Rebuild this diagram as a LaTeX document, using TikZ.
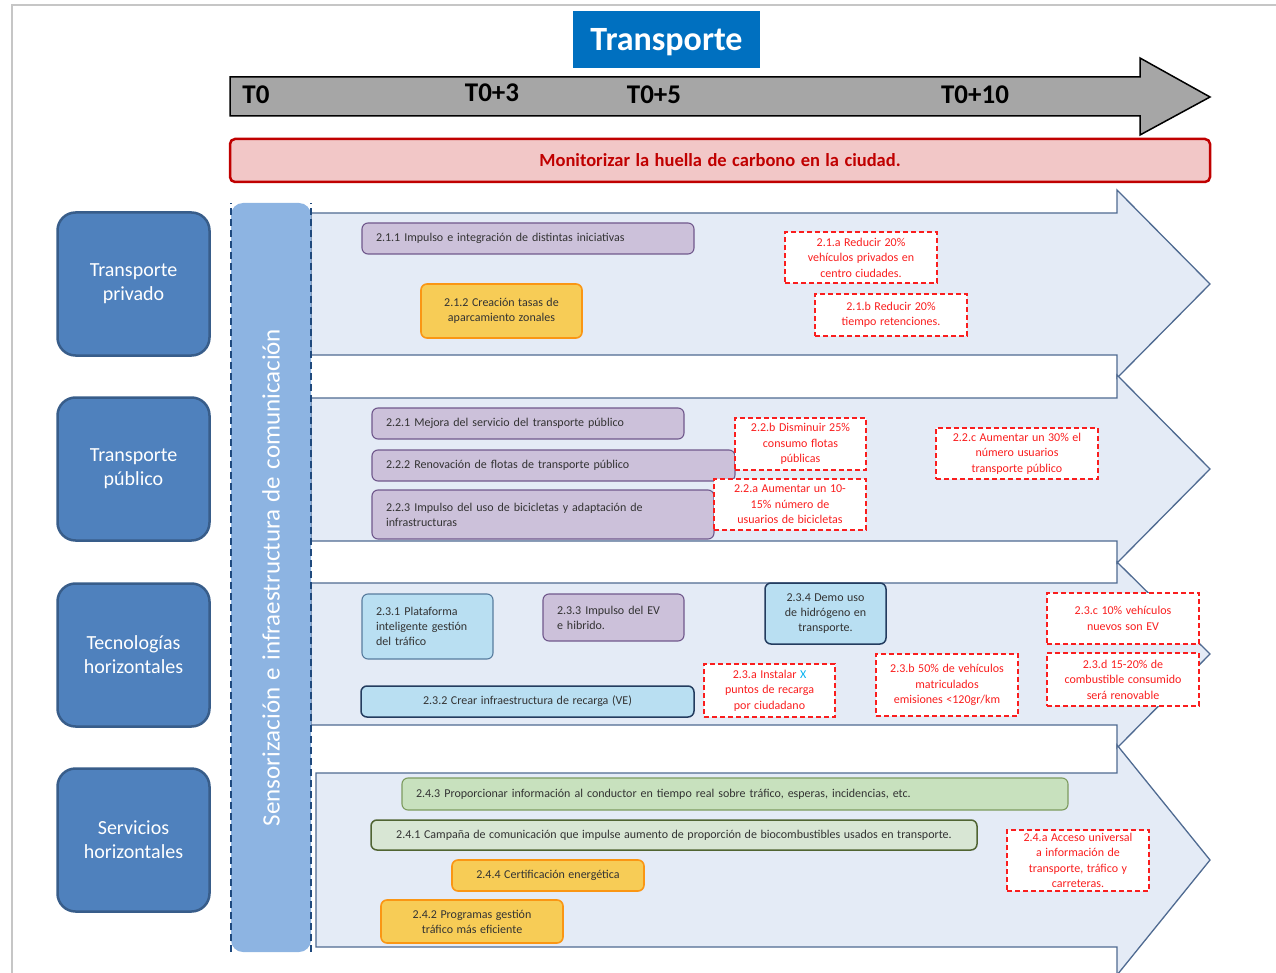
\documentclass[tikz,border=0pt]{standalone}
\usepackage{fontspec}
\setmainfont{Carlito}[WordSpace=1.3]
\usetikzlibrary{positioning}

\definecolor{titleblue}{RGB}{0,112,192}
\definecolor{catfill}{RGB}{79,129,189}
\definecolor{catdraw}{RGB}{56,93,138}
\definecolor{barfill}{RGB}{141,180,226}
\definecolor{bardash}{RGB}{31,73,125}
\definecolor{bandfill}{RGB}{228,235,246}
\definecolor{banddraw}{RGB}{79,106,145}
\definecolor{lilafill}{RGB}{204,193,218}
\definecolor{liladraw}{RGB}{112,88,140}
\definecolor{orfill}{RGB}{247,204,86}
\definecolor{ordraw}{RGB}{250,150,20}
\definecolor{cyanfill}{RGB}{185,223,242}
\definecolor{cyandraw}{RGB}{88,124,158}
\definecolor{navydraw}{RGB}{35,60,95}
\definecolor{greenfill}{RGB}{200,225,190}
\definecolor{greendraw}{RGB}{125,155,95}
\definecolor{paleverde}{RGB}{216,230,212}
\definecolor{olivedraw}{RGB}{80,100,50}
\definecolor{goalred}{RGB}{250,30,30}
\definecolor{xblue}{RGB}{0,176,240}
\definecolor{monfill}{RGB}{242,199,199}
\definecolor{mondraw}{RGB}{192,0,0}

\begin{document}
\begin{tikzpicture}[x=1pt,y=-1pt,
  cat/.style={draw=catdraw,fill=catfill,line width=2.5pt,rounded corners=18pt,
    minimum width=152pt,minimum height=143pt,text=white,align=center,
    font=\fontsize{20}{24}\selectfont},
  band/.style={draw=banddraw,fill=bandfill,line width=1.3pt,line join=miter},
  wh/.style 2 args={minimum width=#1,minimum height=#2},
  leftcol/.style={text width=#1,align=left},
  act/.style={rounded corners=6pt,line width=1.1pt,inner sep=0pt,text=black!80,
    align=center,font=\fontsize{12}{15}\selectfont},
  lila/.style={act,fill=lilafill,draw=liladraw},
  naranja/.style={act,fill=orfill,draw=ordraw,line width=1.6pt},
  celeste/.style={act,fill=cyanfill,draw=cyandraw},
  verde/.style={act,fill=greenfill,draw=greendraw},
  meta/.style={draw=goalred,fill=white,line width=1.5pt,dash pattern=on 5pt off 3pt,
    inner sep=0pt,text=goalred,align=center,font=\fontsize{12}{15.5}\selectfont},
  tlabel/.style={font=\bfseries\fontsize{27}{30}\selectfont}]
\useasboundingbox (0,0) rectangle (1276,973);

% frame of the page
\draw[gray!45,line width=2pt] (12,973) -- (12,5) -- (1276,5);

% title and time line
\node[fill=titleblue,text=white,font=\bfseries\fontsize{34}{38}\selectfont,
  wh={187pt}{57pt},text height=22pt,text depth=0pt] (titulo) at (666.5,39.5) {Transporte};
\draw[fill=gray!70,line width=1.5pt] (230,77) -- (1140,77) -- (1140,58) -- (1210,97)
  -- (1140,135) -- (1140,116) -- (230,116) -- cycle;
\node[tlabel] (t0) at (256,95) {T0};
\node[tlabel] (t3) at (492,93) {T0+3};
\node[tlabel] (t5) at (654,95) {T0+5};
\node[tlabel] (t10) at (975,95) {T0+10};

\node[draw=mondraw,fill=monfill,line width=2.5pt,rounded corners=5pt,wh={980pt}{43pt},
  text=mondraw,font=\bfseries\fontsize{18.5}{20}\selectfont] (huella) at (720,160.5)
  {Monitorizar la huella de carbono en la ciudad.};

% the four bands
\draw[band] (311,213) -- (1117,213) -- (1117,190) -- (1210,284) -- (1117,378)
  -- (1117,355) -- (311,355) -- cycle;
\draw[band] (311,398) -- (1117,398) -- (1117,375) -- (1210,469) -- (1117,563)
  -- (1117,541) -- (311,541) -- cycle;
\draw[band] (311,583) -- (1117,583) -- (1117,562) -- (1210,654) -- (1117,748)
  -- (1117,725) -- (311,725) -- cycle;
\draw[band] (316,773) -- (1117,773) -- (1117,745) -- (1210,860) -- (1117,975)
  -- (1117,947) -- (316,947) -- cycle;

% vertical bar
\node[rotate=90,fill=barfill,rounded corners=12pt,wh={749pt}{80pt},text=white,
  font=\fontsize{25}{28}\selectfont] (sensor) at (271,577.5)
  {Sensorización e infraestructura de comunicación};
\draw[bardash,line width=1.6pt,dash pattern=on 7pt off 4pt]
  (sensor.north west) -- (sensor.north east);
\draw[bardash,line width=1.6pt,dash pattern=on 7pt off 4pt]
  (sensor.south west) -- (sensor.south east);

% categories
\node[cat] (tpriv) at (133.5,284) {Transporte\\privado};
\node[cat] (tpub) at (133.5,469) {Transporte\\público};
\node[cat] (tecno) at (133.5,655) {Tecnologías\\horizontales};
\node[cat] (servi) at (133.5,840) {Servicios\\horizontales};

% 2.1 transporte privado
\node[lila,wh={332pt}{31pt},leftcol=304pt] (a211) at (528,238.5)
  {2.1.1 Impulso e integración de distintas iniciativas};
\node[naranja,wh={161pt}{54pt}] (a212) at (501.5,311)
  {2.1.2 Creación tasas de\\aparcamiento zonales};
\node[meta,wh={152pt}{51pt}] (m21a) at (861,257.5)
  {2.1.a Reducir 20\%\\vehículos privados en\\centro ciudades.};
\node[meta,wh={152pt}{42pt}] (m21b) at (891,315)
  {2.1.b Reducir 20\%\\tiempo retenciones.};

% 2.2 transporte publico
\node[lila,wh={312pt}{31pt},leftcol=284pt] (a221) at (528,423.5)
  {2.2.1 Mejora del servicio del transporte público};
\node[lila,wh={363pt}{31pt},leftcol=335pt] (a222) at (553.5,465.5)
  {2.2.2 Renovación de flotas de transporte público};
\node[lila,wh={342pt}{49pt},leftcol=314pt] (a223) at (543,514.5)
  {2.2.3 Impulso del uso de bicicletas y adaptación de\\infrastructuras};
\node[meta,wh={131pt}{52pt}] (m22b) at (800.5,444)
  {2.2.b Disminuir 25\%\\consumo flotas\\públicas};
\node[meta,wh={152pt}{51pt}] (m22a) at (790,504.5)
  {2.2.a Aumentar un 10-\\15\% número de\\usuarios de bicicletas};
\node[meta,wh={162pt}{51pt}] (m22c) at (1017,453.5)
  {2.2.c Aumentar un 30\% el\\número usuarios\\transporte público};

% 2.3 tecnologias horizontales
\node[celeste,wh={131pt}{65pt},leftcol=103pt] (a231) at (427.5,626.5)
  {2.3.1 Plataforma\\inteligente gestión\\del tráfico};
\node[lila,wh={141pt}{47pt},leftcol=113pt] (a233) at (613.5,617.5)
  {2.3.3 Impulso del EV\\e hibrido.};
\node[celeste,draw=navydraw,line width=1.5pt,wh={121pt}{61pt}] (a234) at (825.5,613.5)
  {2.3.4 Demo uso\\de hidrógeno en\\transporte.};
\node[celeste,draw=navydraw,line width=1.5pt,wh={333pt}{31pt}] (a232) at (527.5,701.5)
  {2.3.2 Crear infraestructura de recarga (VE)};
\node[meta,wh={131pt}{53pt}] (m23a) at (769.5,690.5)
  {2.3.a Instalar {\color{xblue}X}\\puntos de recarga\\por ciudadano};
\node[meta,wh={142pt}{62pt}] (m23b) at (947,685)
  {2.3.b 50\% de vehículos\\matriculados\\emisiones <120gr/km};
\node[meta,wh={152pt}{51pt}] (m23c) at (1123,618.5)
  {2.3.c 10\% vehículos\\nuevos son EV};
\node[meta,wh={152pt}{53pt}] (m23d) at (1123,679.5)
  {2.3.d 15-20\% de\\combustible consumido\\será renovable};

% 2.4 servicios horizontales
\node[verde,wh={666pt}{32pt},leftcol=638pt] (a243) at (735,794)
  {2.4.3 Proporcionar información al conductor en tiempo real sobre tráfico, esperas, incidencias, etc.};
\node[act,fill=paleverde,draw=olivedraw,line width=1.5pt,wh={606pt}{30pt}] (a241) at (674,835)
  {2.4.1 Campaña de comunicación que impulse aumento de proporción de biocombustibles usados en transporte.};
\node[naranja,wh={192pt}{31pt}] (a244) at (548,875.5)
  {2.4.4 Certificación energética};
\node[naranja,wh={182pt}{43pt}] (a242) at (472,921.5)
  {2.4.2 Programas gestión\\tráfico más eficiente};
\node[meta,wh={142pt}{61pt}] (m24a) at (1078,860.5)
  {2.4.a Acceso universal\\a información de\\transporte, tráfico y\\carreteras.};
\end{tikzpicture}
\end{document}
